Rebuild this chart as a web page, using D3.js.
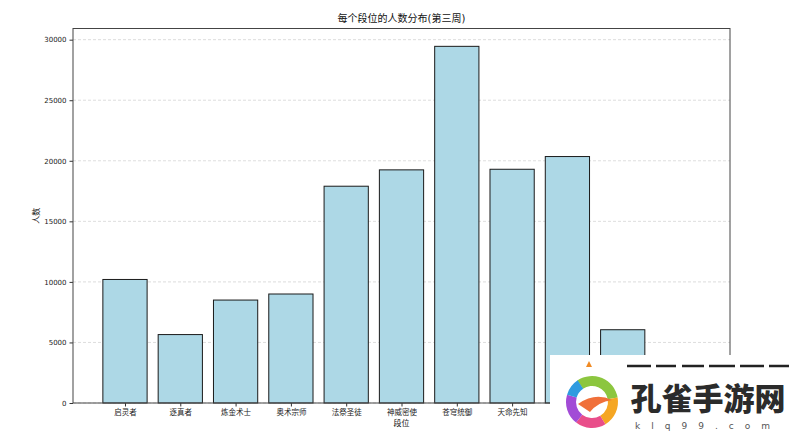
<!DOCTYPE html>
<html><head><meta charset="utf-8">
<script src="https://cdn.jsdelivr.net/npm/d3@7"></script>
<style>body{margin:0;background:#fff}svg{display:block}</style>
</head><body>
<script>
const categories = ["启灵者","逐真者","炼金术士","奥术宗师","法祭圣徒","神威密使","苍穹统御","天命先知","星辰主宰","永恒至尊","传奇"];
const values = [10200, 5650, 8500, 9000, 17900, 19250, 29450, 19300, 20350, 6050, 2500];
const yTicks = [0, 5000, 10000, 15000, 20000, 25000, 30000];
const title = "每个段位的人数分布(第三周)";
const xLabel = "段位";
const yLabel = "人数";

const W = 800, H = 432;
const m = {left: 73, right: 730, top: 28.5, bottom: 403};
const svg = d3.select("body").append("svg").attr("width", W).attr("height", H);
const cjk = "'DejaVu Sans','Noto Sans CJK SC',sans-serif";
const overlay = {x: 550, y: 355, w: 250, h: 77};

const n = categories.length;
const lo = -0.4, hi = n - 1 + 0.4, pad = (hi - lo) * 0.05;
const x = d3.scaleLinear().domain([lo - pad, hi + pad]).range([m.left, m.right]);
const y = d3.scaleLinear().domain([0, d3.max(values) * 1.05]).range([m.bottom, m.top]);

// grid
svg.append("g").selectAll("line").data(yTicks).join("line")
  .attr("x1", m.left).attr("x2", m.right)
  .attr("y1", d => y(d)).attr("y2", d => y(d))
  .attr("stroke", "#d4d4d4").attr("stroke-width", 0.8).attr("stroke-dasharray", "3,2");

// bars
svg.append("g").selectAll("rect").data(values).join("rect")
  .attr("x", (d, i) => x(i - 0.4)).attr("width", x(0.8) - x(0))
  .attr("y", d => y(d)).attr("height", d => y(0) - y(d))
  .attr("fill", "#add8e6").attr("stroke", "#1a1a1a").attr("stroke-width", 1);

// axes
const yAxis = d3.axisLeft(y).tickValues(yTicks).tickSize(3.5).tickPadding(3).tickFormat(d3.format("d"));
const gy = svg.append("g").attr("transform", `translate(${m.left},0)`).call(yAxis);
gy.select(".domain").remove();
gy.selectAll("text").attr("font-family", cjk).attr("font-size", 7).attr("fill", "#222");
gy.selectAll("line").attr("stroke", "#333");

const xAxis = d3.axisBottom(x).tickValues(d3.range(n)).tickSize(3.5).tickPadding(3).tickFormat(i => categories[i]);
const gx = svg.append("g").attr("transform", `translate(0,${m.bottom})`).call(xAxis);
gx.select(".domain").remove();
gx.selectAll("text").attr("font-family", cjk).attr("font-size", 7.5).attr("fill", "#222");
gx.selectAll("line").attr("stroke", "#333");
// labels covered by the watermark in the reference are not visible there
gx.selectAll(".tick").filter(i => x(i) - 20 > overlay.x).select("text").remove();

// frame
svg.append("rect").attr("x", m.left).attr("y", m.top)
  .attr("width", m.right - m.left).attr("height", m.bottom - m.top)
  .attr("fill", "none").attr("stroke", "#444").attr("stroke-width", 1);

// titles
svg.append("text").attr("x", (m.left + m.right) / 2).attr("y", 22).attr("text-anchor", "middle")
  .attr("font-family", cjk).attr("font-size", 10).attr("fill", "#111").text(title);
svg.append("text").attr("x", (m.left + m.right) / 2).attr("y", 426).attr("text-anchor", "middle")
  .attr("font-family", cjk).attr("font-size", 8).attr("fill", "#111").text(xLabel);
svg.append("text").attr("transform", `translate(39,${(m.top + m.bottom) / 2}) rotate(-90)`)
  .attr("text-anchor", "middle").attr("font-family", cjk).attr("font-size", 8).attr("fill", "#111").text(yLabel);

// watermark overlay (present in the reference image)
const wm = svg.append("g");
wm.append("rect").attr("x", overlay.x).attr("y", overlay.y).attr("width", overlay.w).attr("height", overlay.h).attr("fill", "#fff");
wm.append("line").attr("x1", 627).attr("x2", 790).attr("y1", 366).attr("y2", 366)
  .attr("stroke", "#222").attr("stroke-width", 2.5).attr("stroke-dasharray", "24,5,20,6,22,5,26,5");
wm.append("path").attr("d", "M586,367 L589,361 L592,367 Z").attr("fill", "#f08a24");
const arc = d3.arc();
const cx = 592, cy = 402;
const segs = [
  {s: -0.6, e: 1.4, c: "#8cc63f"}, {s: 1.4, e: 2.6, c: "#f5a623"},
  {s: 2.6, e: 3.8, c: "#e94e8a"}, {s: 3.8, e: 5.0, c: "#a24bd6"}, {s: 5.0, e: 5.7, c: "#2f9be0"}];
segs.forEach(sg => wm.append("path").attr("transform", `translate(${cx},${cy})`)
  .attr("d", arc({innerRadius: 16, outerRadius: 26, startAngle: sg.s, endAngle: sg.e})).attr("fill", sg.c));
wm.append("path").attr("d", "M578,404 Q595,392 612,400 Q598,402 590,412 Z").attr("fill", "#f0703a");
wm.append("text").attr("x", 708).attr("y", 410).attr("text-anchor", "middle")
  .attr("font-family", "'Noto Sans CJK SC',sans-serif").attr("font-weight", 900).attr("font-size", 31)
  .attr("fill", "#2b2b2b").text("孔雀手游网");
wm.append("text").attr("x", 708).attr("y", 429).attr("text-anchor", "middle")
  .attr("font-family", "'DejaVu Sans',sans-serif").attr("font-size", 9).attr("letter-spacing", 11)
  .attr("fill", "#555").text("klq99.com");
</script>
</body></html>
